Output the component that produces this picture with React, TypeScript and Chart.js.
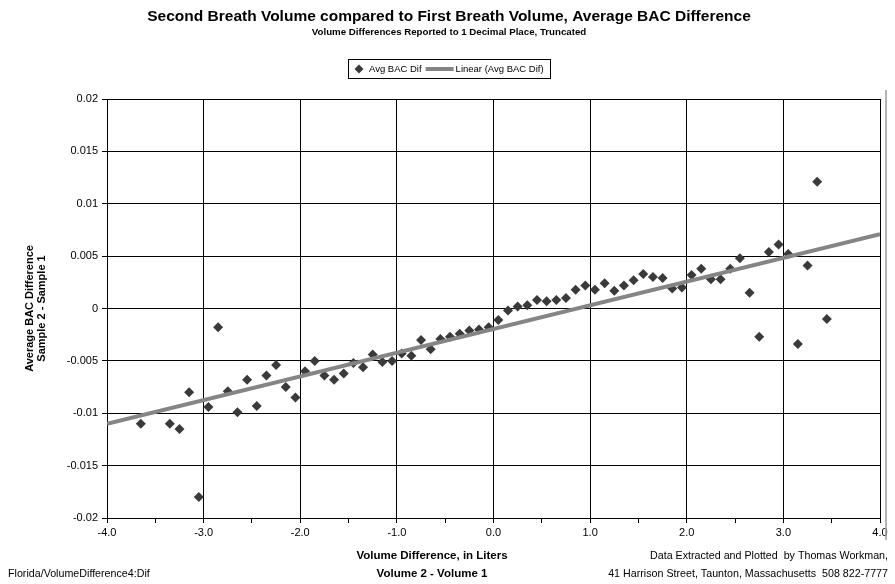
import React, { useEffect, useRef } from 'react';
import { Chart, registerables } from 'chart.js';

Chart.register(...registerables);

const W = 895;
const H = 584;

const titleText = 'Second Breath Volume compared to First Breath Volume, Average BAC Difference';
const subtitleText = 'Volume Differences Reported to 1 Decimal Place, Truncated';
const seriesName = 'Avg BAC Dif';
const trendName = 'Linear (Avg BAC Dif)';
const xTitleLines = ['Volume Difference, in Liters', 'Volume 2 - Volume 1'];
const yTitleLines = ['Average BAC Difference', 'Sample 2 - Sample 1'];
const footerLeft = 'Florida/VolumeDifference4:Dif';
const footerRight = ['Data Extracted and Plotted  by Thomas Workman,', '41 Harrison Street, Taunton, Massachusetts  508 822-7777'];

const volDiff = [
  -3.65, -3.35, -3.25, -3.15, -3.05, -2.95, -2.85, -2.75, -2.65, -2.55,
  -2.45, -2.35, -2.25, -2.15, -2.05, -1.95, -1.85, -1.75, -1.65, -1.55,
  -1.45, -1.35, -1.25, -1.15, -1.05, -0.95, -0.85, -0.75, -0.65, -0.55,
  -0.45, -0.35, -0.25, -0.15, -0.05, 0.05, 0.15, 0.25, 0.35, 0.45,
  0.55, 0.65, 0.75, 0.85, 0.95, 1.05, 1.15, 1.25, 1.35, 1.45,
  1.55, 1.65, 1.75, 1.85, 1.95, 2.05, 2.15, 2.25, 2.35, 2.45,
  2.55, 2.65, 2.75, 2.85, 2.95, 3.05, 3.15, 3.25, 3.35, 3.45,
];
const avgBacDif = [
  -0.0110, -0.0110, -0.0115, -0.0080, -0.0180, -0.0094, -0.0018, -0.0079, -0.0099, -0.0068,
  -0.0093, -0.0064, -0.0054, -0.0075, -0.0085, -0.0060, -0.0050, -0.0064, -0.0068, -0.0062,
  -0.0052, -0.0056, -0.0044, -0.0051, -0.0050, -0.0043, -0.0045, -0.0030, -0.0039, -0.0029,
  -0.0027, -0.0024, -0.0021, -0.0020, -0.0018, -0.0011, -0.0002, 0.0002, 0.0003, 0.0008,
  0.0007, 0.0008, 0.0010, 0.0018, 0.0022, 0.0018, 0.0024, 0.0017, 0.0022, 0.0027,
  0.0033, 0.0030, 0.0029, 0.0019, 0.0020, 0.0032, 0.0038, 0.0028, 0.0028, 0.0038,
  0.0048, 0.0015, -0.0027, 0.0054, 0.0061, 0.0052, -0.0034, 0.0041, 0.0121, -0.0010,
];
const trendX = [-4, 4];
const trendY = [-0.0110, 0.0071];

const FONT = '"Liberation Sans", Arial, sans-serif';
const MARK = '#3a3a3a';
const TREND = '#858585';

const overlay = {
  id: 'overlay',
  afterDraw(chart: any) {
    const ctx = chart.ctx as CanvasRenderingContext2D;
    const area = chart.chartArea;
    ctx.save();
    ctx.fillStyle = '#000';
    ctx.textBaseline = 'middle';
    // titles
    ctx.textAlign = 'center';
    ctx.font = `bold 15.5px ${FONT}`;
    ctx.fillText(titleText, 449, 17);
    ctx.font = `bold 9.7px ${FONT}`;
    ctx.fillText(subtitleText, 449, 32);

    // legend, laid out from measured text and centred
    ctx.font = `9.5px ${FONT}`;
    const w1 = ctx.measureText(seriesName).width;
    const w2 = ctx.measureText(trendName).width;
    const inner = 10 + 5 + w1 + 4 + 28 + 2 + w2;
    const lw = Math.round(inner + 12);
    const lh = 19;
    const lx = Math.round(449 - lw / 2);
    const ly = 59;
    ctx.strokeStyle = '#000';
    ctx.lineWidth = 1;
    ctx.strokeRect(lx + 0.5, ly + 0.5, lw, lh);
    const cy = ly + lh / 2 + 0.5;
    let cx = lx + 6;
    ctx.fillStyle = MARK;
    ctx.beginPath();
    ctx.moveTo(cx + 5, cy - 4.5);
    ctx.lineTo(cx + 9.5, cy);
    ctx.lineTo(cx + 5, cy + 4.5);
    ctx.lineTo(cx + 0.5, cy);
    ctx.closePath();
    ctx.fill();
    cx += 15;
    ctx.fillStyle = '#000';
    ctx.textAlign = 'left';
    ctx.fillText(seriesName, cx, cy);
    cx += w1 + 4;
    ctx.strokeStyle = TREND;
    ctx.lineWidth = 4;
    ctx.beginPath();
    ctx.moveTo(cx, cy);
    ctx.lineTo(cx + 28, cy);
    ctx.stroke();
    cx += 30;
    ctx.fillText(trendName, cx, cy);

    // axis titles
    ctx.font = `bold 11.5px ${FONT}`;
    ctx.textAlign = 'center';
    const xc = 432;
    ctx.fillText(xTitleLines[0], xc, 556);
    ctx.fillText(xTitleLines[1], xc, 574);
    ctx.font = `bold 11px ${FONT}`;
    ctx.save();
    ctx.translate(30, (area.top + area.bottom) / 2);
    ctx.rotate(-Math.PI / 2);
    ctx.fillText(yTitleLines[0], 0, 0);
    ctx.fillText(yTitleLines[1], 0, 12);
    ctx.restore();

    // footers
    ctx.font = `10.7px ${FONT}`;
    ctx.textAlign = 'left';
    ctx.fillText(footerLeft, 8, 574);
    ctx.textAlign = 'right';
    ctx.fillText(footerRight[0], 888, 556);
    ctx.fillText(footerRight[1], 888, 574);

    // outer frame line on right
    ctx.strokeStyle = '#9a9a9a';
    ctx.lineWidth = 1.5;
    ctx.beginPath();
    ctx.moveTo(886, 90);
    ctx.lineTo(886, 540);
    ctx.stroke();
    ctx.restore();
  },
};

export default function App() {
  const ref = useRef<HTMLCanvasElement>(null);
  useEffect(() => {
    document.body.style.margin = '0';
    const points = volDiff.map((x, i) => ({ x, y: avgBacDif[i] }));
    const trend = trendX.map((x, i) => ({ x, y: trendY[i] }));
    const chart = new Chart(ref.current as HTMLCanvasElement, {
      type: 'scatter',
      data: {
        datasets: [
          {
            label: trendName,
            data: trend,
            showLine: true,
            borderColor: TREND,
            borderWidth: 4,
            pointRadius: 0,
            fill: false,
          } as any,
          {
            label: seriesName,
            data: points,
            pointStyle: 'rectRot',
            pointRadius: 5,
            backgroundColor: MARK,
            borderColor: MARK,
            borderWidth: 0,
          } as any,
        ],
      },
      options: {
        responsive: false,
        animation: false,
        devicePixelRatio: 1,
        layout: { padding: { top: 99, right: 15, left: 0, bottom: 0 } },
        plugins: {
          legend: { display: false },
          title: { display: false },
          tooltip: { enabled: false },
        },
        scales: {
          x: {
            type: 'linear',
            min: -4,
            max: 4,
            afterFit: (s: any) => { s.height = H - 518; },
            ticks: {
              stepSize: 0.5,
              autoSkip: false,
              maxRotation: 0,
              color: '#000',
              font: { family: FONT, size: 11 },
              padding: 3,
              callback: (v: any) => (Math.abs(v % 1) < 1e-6 ? Number(v).toFixed(1) : ''),
            },
            grid: {
              color: (c: any) => (c.tick && Math.abs(c.tick.value % 1) > 1e-6 ? 'rgba(0,0,0,0)' : '#000'),
              tickColor: '#000',
              tickLength: 5,
              lineWidth: 1,
            },
            border: { color: '#000', width: 1 },
          },
          y: {
            type: 'linear',
            min: -0.02,
            max: 0.02,
            afterFit: (s: any) => { s.width = 107; },
            ticks: {
              stepSize: 0.005,
              color: '#000',
              font: { family: FONT, size: 11 },
              padding: 4,
              callback: (v: any) => String(Number(Number(v).toFixed(3))),
            },
            grid: { color: '#000', tickColor: '#000', tickLength: 5, lineWidth: 1 },
            border: { color: '#000', width: 1 },
          },
        },
      },
      plugins: [overlay],
    });
    return () => chart.destroy();
  }, []);
  return (
    <div style={{ position: 'absolute', left: 0, top: 0, width: W, height: H, background: '#fff' }}>
      <canvas ref={ref} width={W} height={H} style={{ width: W, height: H, display: 'block' }} />
    </div>
  );
}
